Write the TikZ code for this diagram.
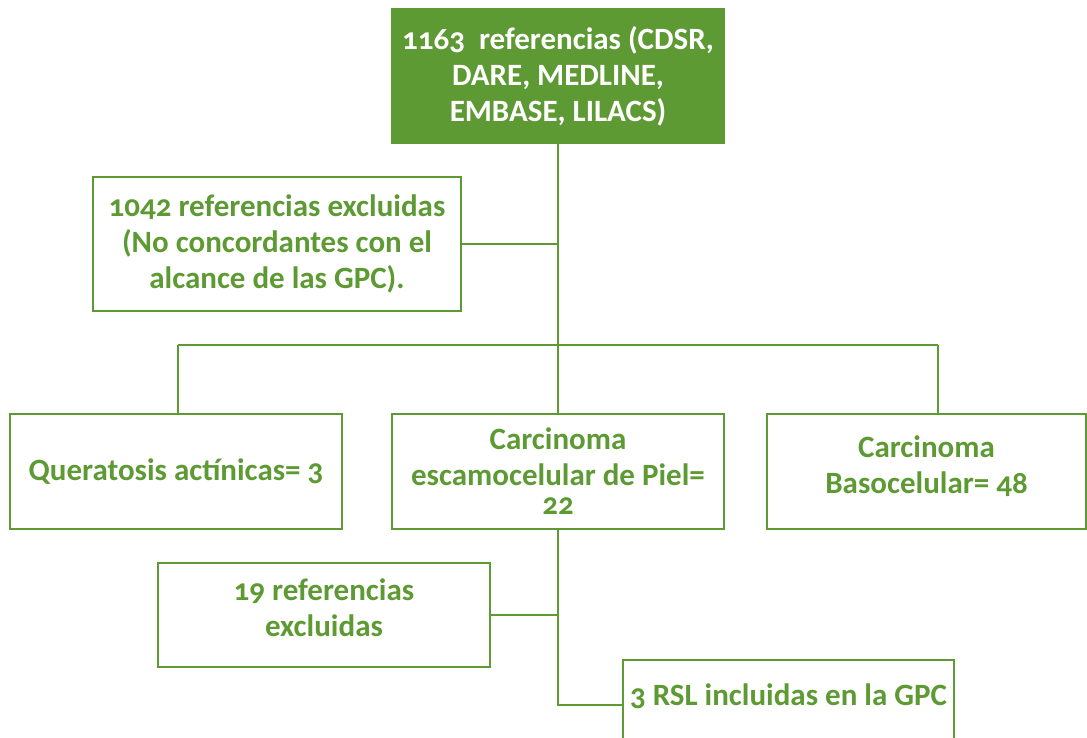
\documentclass[tikz,border=0pt]{standalone}
\usepackage{fontspec}
\setmainfont{Carlito}[Numbers=OldStyle]
\definecolor{gr}{HTML}{5E9A33}
\tikzset{
  x=1pt,y=-1pt,
  box/.style={draw=gr,line width=2.5pt,align=center,inner sep=0pt,font=\fontsize{31}{36}\selectfont\bfseries,text=gr},
  fbox/.style={box,fill=gr,text=white},
  link/.style={draw=gr,line width=2.5pt}
}
\begin{document}
\begin{tikzpicture}
\useasboundingbox (0,0) rectangle (1087,737);
\clip (0,0) rectangle (1087,737);
\node[fbox,minimum width=332pt,minimum height=134pt] (top) at (558,76) {1163\ \ referencias (CDSR,\\DARE, MEDLINE,\\EMBASE, LILACS)};
\node[box,minimum width=368pt,minimum height=134pt] (excl) at (277,244) {1042 referencias excluidas\\(No concordantes con el\\alcance de las GPC).};
\node[box,minimum width=332pt,minimum height=115pt] (qa) at (176,471.5) {Queratosis actínicas= 3};
\node[box,minimum width=332pt,minimum height=115pt] (ce) at (558,471.5) {Carcinoma\\escamocelular de Piel=\\[-7pt]22};
\node[box,minimum width=319pt,minimum height=115pt,text height=43pt,text depth=0pt] (cb) at (926.5,471.5) {Carcinoma\\Basocelular= 48};
\node[box,minimum width=332pt,minimum height=104pt,text height=42pt,text depth=0pt] (r19) at (324,615) {19 referencias\\excluidas};
\node[box,minimum width=331pt,minimum height=90pt,text height=22pt,text depth=22pt] (rsl) at (788.5,705) {3 RSL incluidas en la GPC};
\coordinate (bl) at (178,345);
\coordinate (br) at (938,345);
\coordinate (j) at (558,705);
\draw[link] (top.south) -- (ce.north);
\draw[link] (excl.east) -- (excl.east -| top.south);
\draw[link] (bl) -- (br);
\draw[link] (bl) -- (bl |- ce.north);
\draw[link] (br) -- (br |- ce.north);
\draw[link] (ce.south) -- (j) -- (j -| rsl.west);
\draw[link] (r19.east) -- (r19.east -| ce.south);
\end{tikzpicture}
\end{document}
